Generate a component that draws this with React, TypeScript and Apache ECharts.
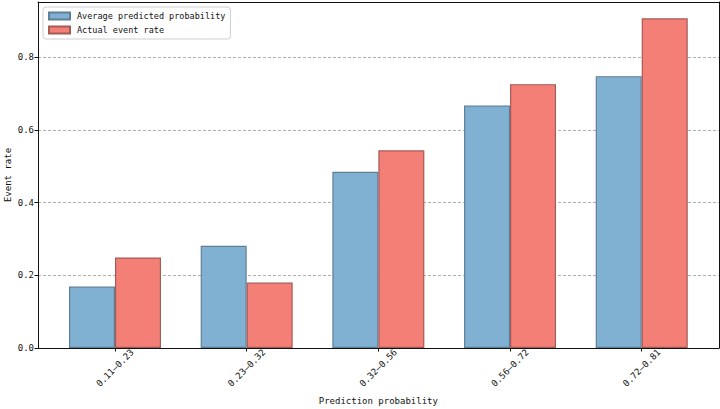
import React, { useEffect, useRef } from "react";
import * as echarts from "echarts";

const categories = ["0.11–0.23", "0.23–0.32", "0.32–0.56", "0.56–0.72", "0.72–0.81"];
const avgPredicted = [0.169, 0.281, 0.485, 0.667, 0.748];
const actualRate = [0.249, 0.18, 0.544, 0.726, 0.907];
const seriesNames = ["Average predicted probability", "Actual event rate"];
const yMax = 0.952;

const FONT = "'DejaVu Sans Mono', 'Liberation Mono', monospace";

export default function App() {
  const ref = useRef<HTMLDivElement>(null);
  useEffect(() => {
    if (!ref.current) return;
    const chart = echarts.init(ref.current, null, { renderer: "svg" });
    const txt = { fontFamily: FONT, fontSize: 9, color: "#111" };
    const blankAxis = (gridIndex: number, position: string) => ({
      type: "value",
      gridIndex,
      position,
      min: 0,
      max: 1,
      axisLine: { show: true, onZero: false, lineStyle: { color: "#111", width: 1 } },
      axisTick: { show: false },
      axisLabel: { show: false },
      splitLine: { show: false },
    });
    chart.setOption({
      animation: false,
      backgroundColor: "#fff",
      textStyle: { fontFamily: FONT },
      grid: [
        { left: 38, right: 1, top: 2, bottom: 61, outerBoundsMode: "none", containLabel: false },
        { left: 49.15, right: 12.45, top: 2, bottom: 61, outerBoundsMode: "none", containLabel: false },
      ],
      legend: {
        orient: "vertical",
        left: 43,
        top: 7,
        itemWidth: 21,
        itemHeight: 7,
        itemGap: 4,
        padding: [4, 5, 4, 5],
        backgroundColor: "#fff",
        borderColor: "#cfcfcf",
        borderWidth: 1,
        borderRadius: 3,
        icon: "rect",
        textStyle: { fontFamily: FONT, fontSize: 8.5, color: "#111", lineHeight: 10, padding: [0, 0, 0, 2] },
        data: seriesNames,
      },
      xAxis: [
        blankAxis(0, "bottom"),
        blankAxis(0, "top"),
        {
          type: "category",
          gridIndex: 1,
          data: categories,
          position: "bottom",
          axisLine: { show: false },
          axisTick: { show: true, alignWithLabel: true, length: 3.5, lineStyle: { color: "#111" } },
          axisLabel: { ...txt, rotate: 45, margin: 20, interval: 0, align: "center", verticalAlign: "middle" },
          splitLine: { show: false },
          name: "Prediction probability",
          nameLocation: "middle",
          nameGap: 48,
          nameMoveOverlap: false,
          nameTextStyle: { ...txt },
        },
      ],
      yAxis: [
        {
          type: "value",
          gridIndex: 0,
          position: "left",
          min: 0,
          max: yMax,
          interval: 0.2,
          axisLine: { show: true, onZero: false, lineStyle: { color: "#111", width: 1 } },
          axisTick: { show: true, length: 3.5, lineStyle: { color: "#111" } },
          axisLabel: { ...txt, margin: 4, showMaxLabel: false, formatter: (v: number) => v.toFixed(1) },
          splitLine: { show: true, lineStyle: { color: "#9a9a9a", type: [3, 2], width: 0.8 } },
          name: "Event rate",
          nameLocation: "middle",
          nameGap: 26,
          nameMoveOverlap: false,
          nameTextStyle: { ...txt },
        },
        {
          type: "value",
          gridIndex: 0,
          position: "right",
          min: 0,
          max: 1,
          axisLine: { show: true, onZero: false, lineStyle: { color: "#111", width: 1 } },
          axisTick: { show: false },
          axisLabel: { show: false },
          splitLine: { show: false },
        },
        {
          type: "value",
          gridIndex: 1,
          min: 0,
          max: yMax,
          show: false,
          splitLine: { show: false },
        },
      ],
      series: [
        {
          name: seriesNames[0],
          type: "bar",
          xAxisIndex: 2,
          yAxisIndex: 2,
          data: avgPredicted,
          barWidth: 46,
          barGap: "0%",
          itemStyle: { color: "#80b1d3", borderColor: "#5f7f97", borderWidth: 1.2 },
        },
        {
          name: seriesNames[1],
          type: "bar",
          xAxisIndex: 2,
          yAxisIndex: 2,
          data: actualRate,
          barWidth: 46,
          barGap: "0%",
          itemStyle: { color: "#f47f76", borderColor: "#a55a55", borderWidth: 1.2 },
        },
      ],
    });
    return () => chart.dispose();
  }, []);
  return (
    <div
      ref={ref}
      style={{ position: "fixed", left: 0, top: 0, width: 720, height: 409, background: "#fff" }}
    />
  );
}
